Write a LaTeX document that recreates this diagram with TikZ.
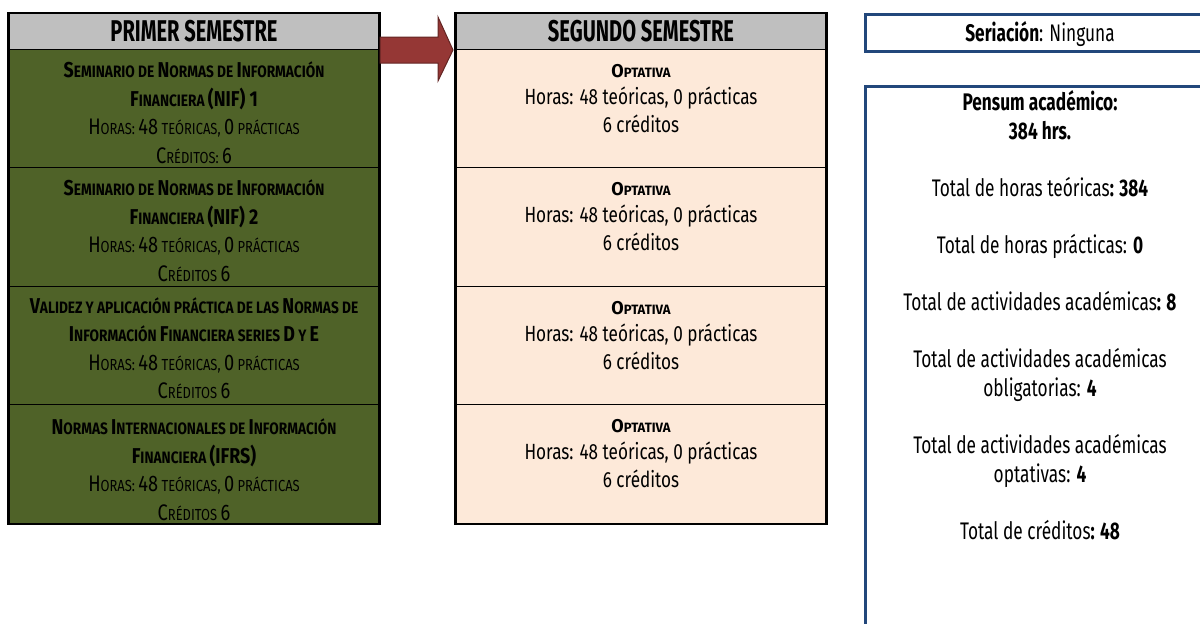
\documentclass[tikz,border=0pt]{standalone}
\usepackage{fontspec}
\setmainfont[FakeStretch=0.75]{Fira Sans}
\newfontfamily\rfont[FakeStretch=0.72]{Fira Sans}
\newfontfamily\mfont[FakeStretch=0.78]{Fira Sans}
\newfontfamily\hfont[FakeStretch=0.67]{Fira Sans}
\newfontfamily\tfont[FakeStretch=0.83]{Fira Sans}
\newfontfamily\ifont[FakeStretch=0.81]{Fira Sans}
\newfontfamily\ofont[FakeStretch=0.97]{Fira Sans}
\definecolor{olive}{HTML}{4F6228}
\definecolor{hdrgray}{HTML}{BFBFBF}
\definecolor{peach}{HTML}{FDE9D9}
\definecolor{arrowred}{HTML}{953735}
\definecolor{arrowedge}{HTML}{632523}
\definecolor{navy}{HTML}{22477B}
\newcommand\tB[1]{{\fontsize{21.5}{28.5}\selectfont #1}}
\newcommand\tS[1]{{\fontsize{16.5}{28.5}\selectfont #1}}
\newcommand\iB[1]{{\fontsize{22.5}{28.5}\selectfont #1}}
\newcommand\iS[1]{{\fontsize{16}{28.5}\selectfont #1}}
\newcommand\oB[1]{{\fontsize{18.5}{27.5}\selectfont #1}}
\newcommand\oS[1]{{\fontsize{13.5}{27.5}\selectfont #1}}
\newcommand\ttl[1]{{\tfont\bfseries #1}}
\newcommand\hrs{{\ifont\iB{H}\iS{ORAS: }\iB{48}\iS{ TEÓRICAS, }\iB{0}\iS{ PRÁCTICAS}}}
\newcommand\cred[1]{{\ifont\iB{C}\iS{RÉDITOS#1 }\iB{6}}}
\newcommand\opt{{\ofont\bfseries\oB{O}\oS{PTATIVA}}\\Horas: 48 teóricas, 0 prácticas\\6 créditos}
\tikzset{
  hdr/.style={draw=black, line width=1.3pt, fill=hdrgray, minimum width=370pt, minimum height=36pt, inner sep=0pt, anchor=north},
  cellL/.style={draw=black, line width=1.3pt, fill=olive, minimum width=370pt, inner sep=0pt, anchor=north},
  cellM/.style={draw=black, line width=1.3pt, fill=peach, minimum width=370pt, inner sep=0pt, anchor=north},
  outer/.style={draw=black, line width=2.2pt},
  hdrtxt/.style={font=\hfont\bfseries\fontsize{30}{32}\selectfont, anchor=base, inner sep=0pt},
  ltxt/.style={font=\fontsize{17}{28.5}\selectfont, align=center, anchor=north, inner sep=0pt},
  mtxt/.style={font=\mfont\fontsize{22}{27.5}\selectfont, align=center, anchor=north, inner sep=0pt},
  rtxt/.style={font=\rfont\fontsize{24}{28.5}\selectfont, anchor=base, inner sep=0pt},
  blockarrow/.style={fill=arrowred, draw=arrowedge, line width=1pt, line join=miter},
  blueline/.style={draw=navy, line width=3pt},
}
\begin{document}
\begin{tikzpicture}[x=1pt,y=-1pt]
\useasboundingbox (0,0) rectangle (1200,624);
% ---- left column
\node[hdr] (lh) at (194,13) {};
\node[cellL, minimum height=118pt] (l1) at (194,49) {};
\node[cellL, minimum height=119pt] (l2) at (194,167) {};
\node[cellL, minimum height=118pt] (l3) at (194,286) {};
\node[cellL, minimum height=119pt] (l4) at (194,404) {};
\draw[outer] (lh.north west) rectangle (l4.south east);
\node[hdrtxt] (lht) at (194,41.3) {PRIMER SEMESTRE};
\node[ltxt] (l1t) at ([yshift=-6.5pt]l1.north) {\rule{0pt}{22pt}\ttl{\tB{S}\tS{EMINARIO DE }\tB{N}\tS{ORMAS DE }\tB{I}\tS{NFORMACIÓN}}\\
  \ttl{\tB{F}\tS{INANCIERA }\tB{(NIF) 1}}\\
  \hrs\\
  \cred{:}};
\node[ltxt] (l2t) at ([yshift=-6.5pt]l2.north) {\rule{0pt}{22pt}\ttl{\tB{S}\tS{EMINARIO DE }\tB{N}\tS{ORMAS DE }\tB{I}\tS{NFORMACIÓN}}\\
  \ttl{\tB{F}\tS{INANCIERA }\tB{(NIF) 2}}\\
  \hrs\\
  \cred{}};
\node[ltxt] (l3t) at ([yshift=-5pt]l3.north) {\rule{0pt}{22pt}\ttl{\tB{V}\tS{ALIDEZ Y APLICACIÓN PRÁCTICA DE LAS }\tB{N}\tS{ORMAS DE}}\\
  \ttl{\tB{I}\tS{NFORMACIÓN }\tB{F}\tS{INANCIERA SERIES }\tB{D}\tS{ Y }\tB{E}}\\
  \hrs\\
  \cred{}};
\node[ltxt] (l4t) at ([yshift=-8.5pt]l4.north) {\rule{0pt}{22pt}\ttl{\tB{N}\tS{ORMAS }\tB{I}\tS{NTERNACIONALES DE }\tB{I}\tS{NFORMACIÓN}}\\
  \ttl{\tB{F}\tS{INANCIERA }\tB{(IFRS)}}\\
  \hrs\\
  \cred{}};
% ---- middle column
\node[hdr] (mh) at (641,13) {};
\node[cellM, minimum height=118pt] (m1) at (641,49) {};
\node[cellM, minimum height=119pt] (m2) at (641,167) {};
\node[cellM, minimum height=118pt] (m3) at (641,286) {};
\node[cellM, minimum height=119pt] (m4) at (641,404) {};
\draw[outer] (mh.north west) rectangle (m4.south east);
\node[hdrtxt] (mht) at (641,41.3) {SEGUNDO SEMESTRE};
\node[mtxt] (m1t) at ([yshift=-6pt]m1.north) {\rule{0pt}{22pt}\opt};
\node[mtxt] (m2t) at ([yshift=-6pt]m2.north) {\rule{0pt}{22pt}\opt};
\node[mtxt] (m3t) at ([yshift=-6pt]m3.north) {\rule{0pt}{22pt}\opt};
\node[mtxt] (m4t) at ([yshift=-6pt]m4.north) {\rule{0pt}{22pt}\opt};
% ---- block arrow
\draw[blockarrow] (380,37) -- (438,37) -- (438,17) -- (453,50) -- (438,81) -- (438,63) -- (380,63) -- cycle;
% ---- right panels
\draw[blueline] (1202,14) -- (865,14) -- (865,51) -- (1202,51);
\draw[blueline] (1202,86) -- (865,86) -- (865,626);
\node[rtxt] (r0) at (1040,41.5) {\textbf{Seriación}: Ninguna};
\node[rtxt] (r1) at (1040,110.5) {\textbf{Pensum académico:}};
\node[rtxt] (r2) at (1040,139.5) {\textbf{384 hrs.}};
\node[rtxt] (r3) at (1040,196.5) {Total de horas teóricas\textbf{: 384}};
\node[rtxt] (r4) at (1040,253.5) {Total de horas prácticas: \textbf{0}};
\node[rtxt] (r5) at (1040,310.5) {Total de actividades académicas\textbf{: 8}};
\node[rtxt] (r6) at (1040,367.5) {Total de actividades académicas};
\node[rtxt] (r7) at (1040,396.5) {obligatorias: \textbf{4}};
\node[rtxt] (r8) at (1040,453.5) {Total de actividades académicas};
\node[rtxt] (r9) at (1040,482.5) {optativas: \textbf{4}};
\node[rtxt] (r10) at (1040,539.5) {Total de créditos\textbf{: 48}};
\end{tikzpicture}
\end{document}
